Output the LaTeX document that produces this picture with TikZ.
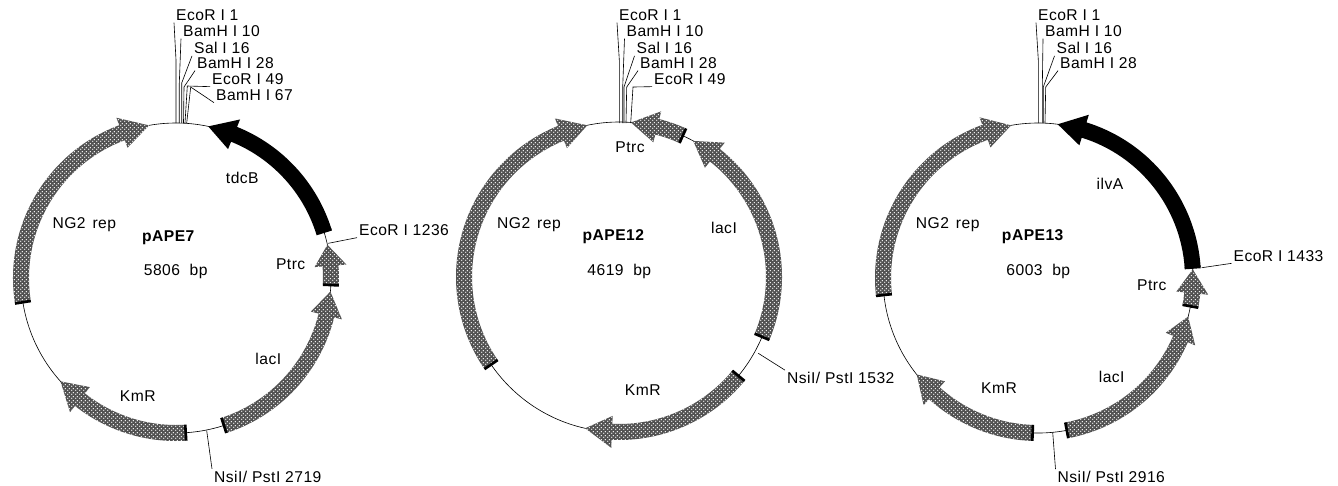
\documentclass[tikz,border=0pt]{standalone}
\usepackage{fontspec}
\setmainfont[LetterSpace=3]{Liberation Sans}
\usepackage{tikz}
\usetikzlibrary{positioning,patterns}

\pgfdeclarepatternformonly{dither}{\pgfqpoint{0pt}{0pt}}{\pgfqpoint{2pt}{2pt}}{\pgfqpoint{2pt}{2pt}}{
  \pgfpathcircle{\pgfqpoint{0.5pt}{0.5pt}}{0.42pt}
  \pgfpathcircle{\pgfqpoint{1.5pt}{1.5pt}}{0.42pt}
  \pgfusepath{fill}
}
\tikzset{
  lbl/.style={font=\fontsize{8.9}{10}\selectfont,inner sep=1pt},
  site/.style={lbl,anchor=west},
  lead/.style={line width=0.35pt},
  plasmid/.style={line width=0.35pt},
  genegray/.style={fill=black!68,postaction={pattern=dither,pattern color=white}},
  geneblack/.style={fill=black}
}
% tail angle, angle where the head starts, tip angle
\newcommand{\gene}[5][genegray]{
  \begin{scope}[shift={(#2)},y=0.02cm]
    \path[#1] (#3:147) arc[start angle=#3,end angle=#4,radius=147] -- (#4:139) -- (#5:155)
      -- (#4:171) -- (#4:163) arc[start angle=#4,end angle=#3,radius=163] -- cycle;
    \draw[line width=1.5pt] (#3:147) -- (#3:163);
  \end{scope}
}

\begin{document}
\begin{tikzpicture}[x=0.02cm,y=-0.02cm]
\useasboundingbox (0,0) rectangle (1338,485);
\coordinate (c1) at (176,278);
\coordinate (c2) at (619,277);
\coordinate (c3) at (1038,278);

% pAPE7
\draw[plasmid] (c1) circle[radius=155];
\gene{c1}{189}{110.4}{100}
\gene[geneblack]{c1}{17.4}{68}{78}
\gene{c1}{-2.6}{4.5}{12.4}
\gene{c1}{-72}{-14}{-5}
\gene{c1}{273.6}{231.7}{221.8}
\foreach \nm/\txt/\lx/\ly/\kx/\ky/\ex in {
  aa/EcoR I 1/174/15/176/60/176,
  ab/BamH I 10/181/31/179.3/83/179.3,
  ac/Sal I 16/192/48/181.7/83/181.7,
  ad/BamH I 28/195/63/184/87/183.5,
  ae/EcoR I 49/210/79/187.3/86/185,
  af/BamH I 67/214/95/190.7/87/186.7}{
  \node[site] (\nm) at (\lx,\ly) {\txt};
  \coordinate (\nm k) at (\kx,\ky);
  \coordinate (\nm e) at (\ex,123);
  \draw[lead] (\nm.south west) -- (\nm k) -- (\nm e);
}
\node[lbl] (arep) at (84.3,225) {NG2\ \kern1.2pt rep};
\node[lbl,font=\fontsize{8.9}{10}\selectfont\bfseries] (aname) at (168.3,238) {pAPE7};
\node[lbl] (asize) at (175.7,271.7) {5806\ \ bp};
\node[lbl] (atdc) at (242.3,178) {tdcB};
\node[lbl] (aptrc) at (290.7,264) {Ptrc};
\node[lbl] (alac) at (268.3,359.3) {lacI};
\node[lbl] (akm) at (137.7,395.7) {KmR};
\node[site] (ansi) at (212,476.7) {NsiI/ PstI 2719};
\coordinate (ansip) at (206.7,430.7);
\draw[lead] (ansip) -- (ansi.north west);
\node[site] (aeco) at (357,230) {EcoR I 1236};
\coordinate (aecop) at (328.3,243.3);
\draw[lead] (aecop) -- (aeco.south west);

% pAPE12
\draw[plasmid] (c2) circle[radius=155];
\gene{c2}{214.4}{112}{101.8}
\gene{c2}{65.7}{75.7}{85.6}
\gene{c2}{-22.7}{51.8}{61.4}
\gene{c2}{320.4}{267.4}{257.4}
\foreach \nm/\txt/\lx/\ly/\kx/\ky/\ex in {
  ba/EcoR I 1/617/15/619.3/60/619.3,
  bb/BamH I 10/624.5/31/622.7/87/622.7,
  bc/Sal I 16/634.5/48/624/87/624,
  bd/BamH I 28/638/63/626.7/87/626,
  be/EcoR I 49/652/79/633/87/630.7}{
  \node[site] (\nm) at (\lx,\ly) {\txt};
  \coordinate (\nm k) at (\kx,\ky);
  \coordinate (\nm e) at (\ex,123);
  \draw[lead] (\nm.south west) -- (\nm k) -- (\nm e);
}
\node[lbl] (bptrc) at (630,146.7) {Ptrc};
\node[lbl] (brep) at (529,225) {NG2\ \kern1.2pt rep};
\node[lbl,font=\fontsize{8.9}{10}\selectfont\bfseries] (bname) at (613.3,237) {pAPE12};
\node[lbl] (bsize) at (619.3,271.7) {4619\ \ bp};
\node[lbl] (blac) at (724,228) {lacI};
\node[lbl] (bkm) at (642.7,390) {KmR};
\node[site] (bnsi) at (785,378) {NsiI/ PstI 1532};
\coordinate (bnsip) at (758.3,353.3);
\draw[lead] (bnsip) -- (bnsi.north west);

% pAPE13
\draw[plasmid] (c3) circle[radius=155];
\gene{c3}{186.3}{110}{100}
\gene[geneblack]{c3}{3.9}{72.7}{82.7}
\gene{c3}{-10.5}{-5.6}{3.2}
\gene{c3}{-79.3}{-23.2}{-14.4}
\gene{c3}{268}{228}{218.5}
\foreach \nm/\txt/\lx/\ly/\kx/\ky/\ex in {
  ca/EcoR I 1/1036/15/1038.3/60/1038.3,
  cb/BamH I 10/1043/31/1042.3/87/1042.3,
  cc/Sal I 16/1054.5/48/1043.3/87/1043.3,
  cd/BamH I 28/1058/63/1045.7/87/1045}{
  \node[site] (\nm) at (\lx,\ly) {\txt};
  \coordinate (\nm k) at (\kx,\ky);
  \coordinate (\nm e) at (\ex,123);
  \draw[lead] (\nm.south west) -- (\nm k) -- (\nm e);
}
\node[lbl] (crep) at (947.7,225) {NG2\ \kern1.2pt rep};
\node[lbl,font=\fontsize{8.9}{10}\selectfont\bfseries] (cname) at (1032.7,237) {pAPE13};
\node[lbl] (csize) at (1038.3,271.7) {6003\ \ bp};
\node[lbl] (cilv) at (1110,184) {ilvA};
\node[lbl] (cptrc) at (1151.7,285) {Ptrc};
\node[lbl] (clac) at (1111.7,376.7) {lacI};
\node[lbl] (ckm) at (999,388.3) {KmR};
\node[site] (cnsi) at (1055.5,477) {NsiI/ PstI 2916};
\coordinate (cnsip) at (1052.7,432.3);
\draw[lead] (cnsip) -- (cnsi.north west);
\node[site] (ceco) at (1231.5,255.7) {EcoR I 1433};
\coordinate (cecop) at (1201.7,267.7);
\draw[lead] (cecop) -- (ceco.south west);
\end{tikzpicture}
\end{document}
